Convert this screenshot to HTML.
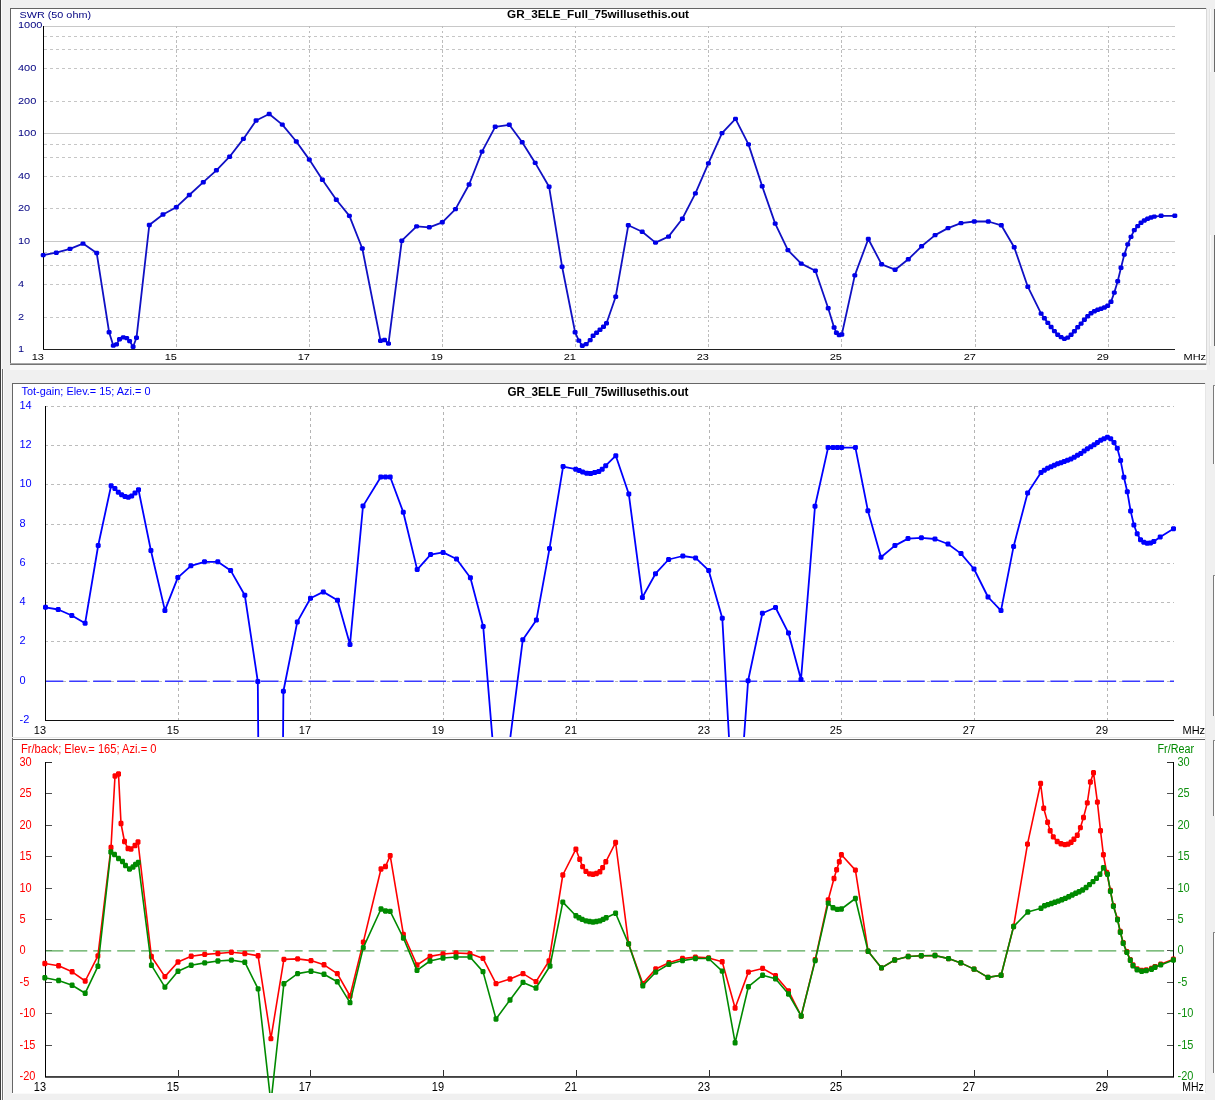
<!DOCTYPE html>
<html><head><meta charset="utf-8"><title>GR_3ELE_Full_75willusethis.out</title>
<style>html,body{margin:0;padding:0;background:#f0f0f0;width:1215px;height:1100px;overflow:hidden}svg{display:block}</style>
</head><body>
<svg width="1215" height="1100" viewBox="0 0 1215 1100"><rect x="0" y="0" width="1215" height="1100" fill="#f0f0f0"/>
<rect x="0" y="0" width="1" height="1100" fill="#3c3c3c"/>
<rect x="1" y="0" width="1" height="1100" fill="#fbfbfb"/>
<rect x="2" y="369" width="1" height="731" fill="#707070"/>
<rect x="3" y="369" width="1" height="731" fill="#fbfbfb"/>
<rect x="10" y="8" width="1197" height="357" fill="#ffffff"/>
<rect x="10" y="8" width="1197" height="1" fill="#646464"/>
<rect x="10" y="8" width="1" height="357" fill="#646464"/>
<rect x="10" y="363" width="1197" height="1" fill="#a8a8a8"/>
<rect x="10" y="364" width="1197" height="1" fill="#747474"/>
<rect x="1206" y="8" width="1" height="357" fill="#d8d8d8"/>
<rect x="10" y="365" width="1197" height="5" fill="#f8f8f8"/>
<rect x="1214" y="9" width="1" height="63" fill="#6a6a6a"/>
<rect x="1210" y="9" width="1" height="63" fill="#fcfcfc"/>
<rect x="1214" y="235" width="1" height="111" fill="#6a6a6a"/>
<rect x="1210" y="235" width="1" height="111" fill="#fcfcfc"/>
<rect x="1209" y="9" width="1" height="356" fill="#e4e4e4"/>
<rect x="12" y="383" width="1194" height="356" fill="#ffffff"/>
<rect x="12" y="383" width="1194" height="1" fill="#666666"/>
<rect x="12" y="383" width="1" height="356" fill="#666666"/>
<rect x="1205" y="383" width="1" height="356" fill="#e6e6e6"/>
<rect x="12" y="737" width="1194" height="1" fill="#e8e8e8"/>
<rect x="12" y="739" width="1194" height="355" fill="#ffffff"/>
<rect x="12" y="739" width="1194" height="1" fill="#666666"/>
<rect x="12" y="739" width="1" height="355" fill="#666666"/>
<rect x="1205" y="739" width="1" height="355" fill="#e6e6e6"/>
<rect x="12" y="1093" width="1194" height="1" fill="#fafafa"/>
<rect x="1213" y="385" width="1" height="79" fill="#7a7a7a"/>
<rect x="1214" y="385" width="1" height="79" fill="#fdfdfd"/>
<rect x="1213" y="385" width="2" height="1" fill="#8a8a8a"/>
<rect x="1213" y="575" width="1" height="141" fill="#7a7a7a"/>
<rect x="1214" y="575" width="1" height="141" fill="#fdfdfd"/>
<rect x="1213" y="575" width="2" height="1" fill="#8a8a8a"/>
<rect x="1213" y="740" width="1" height="76" fill="#7a7a7a"/>
<rect x="1214" y="740" width="1" height="76" fill="#fdfdfd"/>
<rect x="1213" y="740" width="2" height="1" fill="#8a8a8a"/>
<rect x="1213" y="932" width="1" height="141" fill="#7a7a7a"/>
<rect x="1214" y="932" width="1" height="141" fill="#fdfdfd"/>
<rect x="1213" y="932" width="2" height="1" fill="#8a8a8a"/>
<g font-family="'Liberation Sans', Arial, sans-serif">
<g shape-rendering="crispEdges">
<line x1="44" y1="26.5" x2="1175" y2="26.5" stroke="#c8c8c8" stroke-width="1"/>
<line x1="44" y1="133.5" x2="1175" y2="133.5" stroke="#c8c8c8" stroke-width="1"/>
<line x1="44" y1="241.5" x2="1175" y2="241.5" stroke="#c8c8c8" stroke-width="1"/>
<line x1="44" y1="36.5" x2="1175" y2="36.5" stroke="#c6c6c6" stroke-width="1" stroke-dasharray="3 3"/>
<line x1="44" y1="49.5" x2="1175" y2="49.5" stroke="#c6c6c6" stroke-width="1" stroke-dasharray="3 3"/>
<line x1="44" y1="68.5" x2="1175" y2="68.5" stroke="#c6c6c6" stroke-width="1" stroke-dasharray="3 3"/>
<line x1="44" y1="101.5" x2="1175" y2="101.5" stroke="#c6c6c6" stroke-width="1" stroke-dasharray="3 3"/>
<line x1="44" y1="144.5" x2="1175" y2="144.5" stroke="#c6c6c6" stroke-width="1" stroke-dasharray="3 3"/>
<line x1="44" y1="157.5" x2="1175" y2="157.5" stroke="#c6c6c6" stroke-width="1" stroke-dasharray="3 3"/>
<line x1="44" y1="176.5" x2="1175" y2="176.5" stroke="#c6c6c6" stroke-width="1" stroke-dasharray="3 3"/>
<line x1="44" y1="208.5" x2="1175" y2="208.5" stroke="#c6c6c6" stroke-width="1" stroke-dasharray="3 3"/>
<line x1="44" y1="252.5" x2="1175" y2="252.5" stroke="#c6c6c6" stroke-width="1" stroke-dasharray="3 3"/>
<line x1="44" y1="265.5" x2="1175" y2="265.5" stroke="#c6c6c6" stroke-width="1" stroke-dasharray="3 3"/>
<line x1="44" y1="284.5" x2="1175" y2="284.5" stroke="#c6c6c6" stroke-width="1" stroke-dasharray="3 3"/>
<line x1="44" y1="317.5" x2="1175" y2="317.5" stroke="#c6c6c6" stroke-width="1" stroke-dasharray="3 3"/>
<line x1="176.5" y1="26" x2="176.5" y2="349" stroke="#bcbcbc" stroke-width="1" stroke-dasharray="2.4 2.42"/>
<line x1="309.5" y1="26" x2="309.5" y2="349" stroke="#bcbcbc" stroke-width="1" stroke-dasharray="2.4 2.42"/>
<line x1="442.5" y1="26" x2="442.5" y2="349" stroke="#bcbcbc" stroke-width="1" stroke-dasharray="2.4 2.42"/>
<line x1="575.5" y1="26" x2="575.5" y2="349" stroke="#bcbcbc" stroke-width="1" stroke-dasharray="2.4 2.42"/>
<line x1="708.5" y1="26" x2="708.5" y2="349" stroke="#bcbcbc" stroke-width="1" stroke-dasharray="2.4 2.42"/>
<line x1="841.5" y1="26" x2="841.5" y2="349" stroke="#bcbcbc" stroke-width="1" stroke-dasharray="2.4 2.42"/>
<line x1="975.5" y1="26" x2="975.5" y2="349" stroke="#bcbcbc" stroke-width="1" stroke-dasharray="2.4 2.42"/>
<line x1="1108.5" y1="26" x2="1108.5" y2="349" stroke="#bcbcbc" stroke-width="1" stroke-dasharray="2.4 2.42"/>
<line x1="43.5" y1="26" x2="43.5" y2="350" stroke="#000000" stroke-width="1"/>
<line x1="43" y1="349.5" x2="1175" y2="349.5" stroke="#202020" stroke-width="1"/>
</g>
<text transform="translate(19.5 18.2) scale(1 0.88)" fill="#000080" font-size="11" text-anchor="start" font-weight="normal" textLength="71.5" lengthAdjust="spacingAndGlyphs">SWR (50 ohm)</text>
<text transform="translate(598 18) scale(1 0.88)" fill="#000" font-size="11.6" text-anchor="middle" font-weight="bold" textLength="182" lengthAdjust="spacingAndGlyphs">GR_3ELE_Full_75willusethis.out</text>
<text transform="translate(18 28) scale(1 0.88)" fill="#000080" font-size="11" text-anchor="start" font-weight="normal">1000</text>
<text transform="translate(18 71) scale(1 0.88)" fill="#000080" font-size="11" text-anchor="start" font-weight="normal">400</text>
<text transform="translate(18 104) scale(1 0.88)" fill="#000080" font-size="11" text-anchor="start" font-weight="normal">200</text>
<text transform="translate(18 136) scale(1 0.88)" fill="#000080" font-size="11" text-anchor="start" font-weight="normal">100</text>
<text transform="translate(18 179) scale(1 0.88)" fill="#000080" font-size="11" text-anchor="start" font-weight="normal">40</text>
<text transform="translate(18 211) scale(1 0.88)" fill="#000080" font-size="11" text-anchor="start" font-weight="normal">20</text>
<text transform="translate(18 244) scale(1 0.88)" fill="#000080" font-size="11" text-anchor="start" font-weight="normal">10</text>
<text transform="translate(18 287) scale(1 0.88)" fill="#000080" font-size="11" text-anchor="start" font-weight="normal">4</text>
<text transform="translate(18 320) scale(1 0.88)" fill="#000080" font-size="11" text-anchor="start" font-weight="normal">2</text>
<text transform="translate(18 351.5) scale(1 0.88)" fill="#000080" font-size="11" text-anchor="start" font-weight="normal">1</text>
<text transform="translate(44 360) scale(1 0.88)" fill="#000" font-size="11" text-anchor="end" font-weight="normal">13</text>
<text transform="translate(177 360) scale(1 0.88)" fill="#000" font-size="11" text-anchor="end" font-weight="normal">15</text>
<text transform="translate(310 360) scale(1 0.88)" fill="#000" font-size="11" text-anchor="end" font-weight="normal">17</text>
<text transform="translate(443 360) scale(1 0.88)" fill="#000" font-size="11" text-anchor="end" font-weight="normal">19</text>
<text transform="translate(576 360) scale(1 0.88)" fill="#000" font-size="11" text-anchor="end" font-weight="normal">21</text>
<text transform="translate(709 360) scale(1 0.88)" fill="#000" font-size="11" text-anchor="end" font-weight="normal">23</text>
<text transform="translate(842 360) scale(1 0.88)" fill="#000" font-size="11" text-anchor="end" font-weight="normal">25</text>
<text transform="translate(976 360) scale(1 0.88)" fill="#000" font-size="11" text-anchor="end" font-weight="normal">27</text>
<text transform="translate(1109 360) scale(1 0.88)" fill="#000" font-size="11" text-anchor="end" font-weight="normal">29</text>
<text transform="translate(1183.5 360) scale(1 0.88)" fill="#000" font-size="11" text-anchor="start" font-weight="normal">MHz</text>
<defs><clipPath id="c1"><rect x="11" y="9" width="1195" height="355"/></clipPath><clipPath id="c2"><rect x="13" y="384" width="1192" height="353"/></clipPath><clipPath id="c3"><rect x="13" y="740" width="1192" height="353"/></clipPath></defs>
<g clip-path="url(#c1)">
<polyline fill="none" stroke="#1010c4" stroke-width="1.8" stroke-linejoin="round" points="43.2,255.1 56.3,252.7 70,248.9 83,243.6 96.7,253 109.1,332.2 113.3,345.6 116.5,344.4 119.5,339.3 123.3,337.4 126.7,338.1 129.6,341.1 133.1,346.7 136.5,337.8 149.3,225 163,214.5 176.3,207.2 189.3,195 203.3,182.2 216.4,170.3 229.6,156.7 243.4,138.9 256.1,120.5 269.2,114 282.3,124.6 296.3,141.5 309.3,159.6 322.4,179.7 336.3,199.8 349.4,215.9 362.3,248.5 380.5,340.7 384.5,340 388.5,343.6 401.8,240.7 416.6,226.4 429.3,227.3 442.3,222.3 455.5,209.1 469.1,184.5 482,151.6 495.2,126.8 509.3,124.8 522.2,142.2 535.2,162.9 549.1,186.8 562.1,266.7 575.1,332.2 578.8,340.6 582.3,345.8 586.2,344.1 590.2,340.1 593.1,335.7 596.6,332.7 600,329.8 603.5,326.8 606.5,323.3 615.7,296.7 628.3,225.3 642.2,231.7 655.5,242.6 668.5,236.6 682.4,218.7 695.4,193.4 708.4,163.4 722,133.1 735.5,118.9 748.5,144.4 762.2,186.3 775.2,223.6 787.9,250.1 801.2,263.6 815.4,270.7 828.2,308.2 834.1,327.5 836.4,332.7 839.2,335 841.8,334.5 854.8,275.4 868.3,239 881.6,264.3 895.1,269.7 908.3,259.3 921.6,246.3 935.1,235.1 948,228.1 961,223.1 974.3,221.5 988.3,221.5 1001.3,225.3 1014.2,247.2 1027.8,286.7 1041.1,313.6 1044.4,318.3 1047.8,322.9 1051.1,327.0 1054.4,331.1 1057.7,334.7 1061.1,337.1 1064.4,338.9 1067.7,337.6 1071.1,334.8 1074.4,331.2 1077.7,327.2 1081.1,323.6 1084.4,319.7 1087.7,316.3 1091.0,313.3 1094.4,311.3 1097.7,309.8 1101.0,308.7 1104.4,307.5 1107.7,305.8 1111.0,301.7 1114.3,292.6 1117.7,281.3 1121.0,267.8 1124.3,254.6 1127.7,244.4 1131.0,236.9 1134.3,230.1 1137.7,226.1 1141.0,222.8 1144.3,220.5 1147.6,218.8 1151.0,217.5 1154.3,216.6 1161.1,215.8 1174.8,215.8"/>
<path fill="#0000e8" d="M41.7 252.9h3l1 1v2.4l-1 1h-3l-1-1v-2.4zM54.8 250.5h3l1 1v2.4l-1 1h-3l-1-1v-2.4zM68.5 246.7h3l1 1v2.4l-1 1h-3l-1-1v-2.4zM81.5 241.4h3l1 1v2.4l-1 1h-3l-1-1v-2.4zM95.2 250.8h3l1 1v2.4l-1 1h-3l-1-1v-2.4zM107.6 330.0h3l1 1v2.4l-1 1h-3l-1-1v-2.4zM111.8 343.4h3l1 1v2.4l-1 1h-3l-1-1v-2.4zM115.0 342.2h3l1 1v2.4l-1 1h-3l-1-1v-2.4zM118.0 337.1h3l1 1v2.4l-1 1h-3l-1-1v-2.4zM121.8 335.2h3l1 1v2.4l-1 1h-3l-1-1v-2.4zM125.2 335.9h3l1 1v2.4l-1 1h-3l-1-1v-2.4zM128.1 338.9h3l1 1v2.4l-1 1h-3l-1-1v-2.4zM131.6 344.5h3l1 1v2.4l-1 1h-3l-1-1v-2.4zM135.0 335.6h3l1 1v2.4l-1 1h-3l-1-1v-2.4zM147.8 222.8h3l1 1v2.4l-1 1h-3l-1-1v-2.4zM161.5 212.3h3l1 1v2.4l-1 1h-3l-1-1v-2.4zM174.8 205.0h3l1 1v2.4l-1 1h-3l-1-1v-2.4zM187.8 192.8h3l1 1v2.4l-1 1h-3l-1-1v-2.4zM201.8 180.0h3l1 1v2.4l-1 1h-3l-1-1v-2.4zM214.9 168.1h3l1 1v2.4l-1 1h-3l-1-1v-2.4zM228.1 154.5h3l1 1v2.4l-1 1h-3l-1-1v-2.4zM241.9 136.7h3l1 1v2.4l-1 1h-3l-1-1v-2.4zM254.6 118.3h3l1 1v2.4l-1 1h-3l-1-1v-2.4zM267.7 111.8h3l1 1v2.4l-1 1h-3l-1-1v-2.4zM280.8 122.4h3l1 1v2.4l-1 1h-3l-1-1v-2.4zM294.8 139.3h3l1 1v2.4l-1 1h-3l-1-1v-2.4zM307.8 157.4h3l1 1v2.4l-1 1h-3l-1-1v-2.4zM320.9 177.5h3l1 1v2.4l-1 1h-3l-1-1v-2.4zM334.8 197.6h3l1 1v2.4l-1 1h-3l-1-1v-2.4zM347.9 213.7h3l1 1v2.4l-1 1h-3l-1-1v-2.4zM360.8 246.3h3l1 1v2.4l-1 1h-3l-1-1v-2.4zM379.0 338.5h3l1 1v2.4l-1 1h-3l-1-1v-2.4zM383.0 337.8h3l1 1v2.4l-1 1h-3l-1-1v-2.4zM387.0 341.4h3l1 1v2.4l-1 1h-3l-1-1v-2.4zM400.3 238.5h3l1 1v2.4l-1 1h-3l-1-1v-2.4zM415.1 224.2h3l1 1v2.4l-1 1h-3l-1-1v-2.4zM427.8 225.1h3l1 1v2.4l-1 1h-3l-1-1v-2.4zM440.8 220.1h3l1 1v2.4l-1 1h-3l-1-1v-2.4zM454.0 206.9h3l1 1v2.4l-1 1h-3l-1-1v-2.4zM467.6 182.3h3l1 1v2.4l-1 1h-3l-1-1v-2.4zM480.5 149.4h3l1 1v2.4l-1 1h-3l-1-1v-2.4zM493.7 124.6h3l1 1v2.4l-1 1h-3l-1-1v-2.4zM507.8 122.6h3l1 1v2.4l-1 1h-3l-1-1v-2.4zM520.7 140.0h3l1 1v2.4l-1 1h-3l-1-1v-2.4zM533.7 160.7h3l1 1v2.4l-1 1h-3l-1-1v-2.4zM547.6 184.6h3l1 1v2.4l-1 1h-3l-1-1v-2.4zM560.6 264.5h3l1 1v2.4l-1 1h-3l-1-1v-2.4zM573.6 330.0h3l1 1v2.4l-1 1h-3l-1-1v-2.4zM577.3 338.4h3l1 1v2.4l-1 1h-3l-1-1v-2.4zM580.8 343.6h3l1 1v2.4l-1 1h-3l-1-1v-2.4zM584.7 341.9h3l1 1v2.4l-1 1h-3l-1-1v-2.4zM588.7 337.9h3l1 1v2.4l-1 1h-3l-1-1v-2.4zM591.6 333.5h3l1 1v2.4l-1 1h-3l-1-1v-2.4zM595.1 330.5h3l1 1v2.4l-1 1h-3l-1-1v-2.4zM598.5 327.6h3l1 1v2.4l-1 1h-3l-1-1v-2.4zM602.0 324.6h3l1 1v2.4l-1 1h-3l-1-1v-2.4zM605.0 321.1h3l1 1v2.4l-1 1h-3l-1-1v-2.4zM614.2 294.5h3l1 1v2.4l-1 1h-3l-1-1v-2.4zM626.8 223.1h3l1 1v2.4l-1 1h-3l-1-1v-2.4zM640.7 229.5h3l1 1v2.4l-1 1h-3l-1-1v-2.4zM654.0 240.4h3l1 1v2.4l-1 1h-3l-1-1v-2.4zM667.0 234.4h3l1 1v2.4l-1 1h-3l-1-1v-2.4zM680.9 216.5h3l1 1v2.4l-1 1h-3l-1-1v-2.4zM693.9 191.2h3l1 1v2.4l-1 1h-3l-1-1v-2.4zM706.9 161.2h3l1 1v2.4l-1 1h-3l-1-1v-2.4zM720.5 130.9h3l1 1v2.4l-1 1h-3l-1-1v-2.4zM734.0 116.7h3l1 1v2.4l-1 1h-3l-1-1v-2.4zM747.0 142.2h3l1 1v2.4l-1 1h-3l-1-1v-2.4zM760.7 184.1h3l1 1v2.4l-1 1h-3l-1-1v-2.4zM773.7 221.4h3l1 1v2.4l-1 1h-3l-1-1v-2.4zM786.4 247.9h3l1 1v2.4l-1 1h-3l-1-1v-2.4zM799.7 261.4h3l1 1v2.4l-1 1h-3l-1-1v-2.4zM813.9 268.5h3l1 1v2.4l-1 1h-3l-1-1v-2.4zM826.7 306.0h3l1 1v2.4l-1 1h-3l-1-1v-2.4zM832.6 325.3h3l1 1v2.4l-1 1h-3l-1-1v-2.4zM834.9 330.5h3l1 1v2.4l-1 1h-3l-1-1v-2.4zM837.7 332.8h3l1 1v2.4l-1 1h-3l-1-1v-2.4zM840.3 332.3h3l1 1v2.4l-1 1h-3l-1-1v-2.4zM853.3 273.2h3l1 1v2.4l-1 1h-3l-1-1v-2.4zM866.8 236.8h3l1 1v2.4l-1 1h-3l-1-1v-2.4zM880.1 262.1h3l1 1v2.4l-1 1h-3l-1-1v-2.4zM893.6 267.5h3l1 1v2.4l-1 1h-3l-1-1v-2.4zM906.8 257.1h3l1 1v2.4l-1 1h-3l-1-1v-2.4zM920.1 244.1h3l1 1v2.4l-1 1h-3l-1-1v-2.4zM933.6 232.9h3l1 1v2.4l-1 1h-3l-1-1v-2.4zM946.5 225.9h3l1 1v2.4l-1 1h-3l-1-1v-2.4zM959.5 220.9h3l1 1v2.4l-1 1h-3l-1-1v-2.4zM972.8 219.3h3l1 1v2.4l-1 1h-3l-1-1v-2.4zM986.8 219.3h3l1 1v2.4l-1 1h-3l-1-1v-2.4zM999.8 223.1h3l1 1v2.4l-1 1h-3l-1-1v-2.4zM1012.7 245.0h3l1 1v2.4l-1 1h-3l-1-1v-2.4zM1026.3 284.5h3l1 1v2.4l-1 1h-3l-1-1v-2.4zM1039.6 311.4h3l1 1v2.4l-1 1h-3l-1-1v-2.4zM1042.9 316.1h3l1 1v2.4l-1 1h-3l-1-1v-2.4zM1046.3 320.7h3l1 1v2.4l-1 1h-3l-1-1v-2.4zM1049.6 324.8h3l1 1v2.4l-1 1h-3l-1-1v-2.4zM1052.9 328.9h3l1 1v2.4l-1 1h-3l-1-1v-2.4zM1056.2 332.5h3l1 1v2.4l-1 1h-3l-1-1v-2.4zM1059.6 334.9h3l1 1v2.4l-1 1h-3l-1-1v-2.4zM1062.9 336.7h3l1 1v2.4l-1 1h-3l-1-1v-2.4zM1066.2 335.4h3l1 1v2.4l-1 1h-3l-1-1v-2.4zM1069.6 332.6h3l1 1v2.4l-1 1h-3l-1-1v-2.4zM1072.9 329.0h3l1 1v2.4l-1 1h-3l-1-1v-2.4zM1076.2 325.0h3l1 1v2.4l-1 1h-3l-1-1v-2.4zM1079.6 321.4h3l1 1v2.4l-1 1h-3l-1-1v-2.4zM1082.9 317.5h3l1 1v2.4l-1 1h-3l-1-1v-2.4zM1086.2 314.1h3l1 1v2.4l-1 1h-3l-1-1v-2.4zM1089.5 311.1h3l1 1v2.4l-1 1h-3l-1-1v-2.4zM1092.9 309.1h3l1 1v2.4l-1 1h-3l-1-1v-2.4zM1096.2 307.6h3l1 1v2.4l-1 1h-3l-1-1v-2.4zM1099.5 306.5h3l1 1v2.4l-1 1h-3l-1-1v-2.4zM1102.9 305.3h3l1 1v2.4l-1 1h-3l-1-1v-2.4zM1106.2 303.6h3l1 1v2.4l-1 1h-3l-1-1v-2.4zM1109.5 299.5h3l1 1v2.4l-1 1h-3l-1-1v-2.4zM1112.8 290.4h3l1 1v2.4l-1 1h-3l-1-1v-2.4zM1116.2 279.1h3l1 1v2.4l-1 1h-3l-1-1v-2.4zM1119.5 265.6h3l1 1v2.4l-1 1h-3l-1-1v-2.4zM1122.8 252.4h3l1 1v2.4l-1 1h-3l-1-1v-2.4zM1126.2 242.2h3l1 1v2.4l-1 1h-3l-1-1v-2.4zM1129.5 234.7h3l1 1v2.4l-1 1h-3l-1-1v-2.4zM1132.8 227.9h3l1 1v2.4l-1 1h-3l-1-1v-2.4zM1136.2 223.9h3l1 1v2.4l-1 1h-3l-1-1v-2.4zM1139.5 220.6h3l1 1v2.4l-1 1h-3l-1-1v-2.4zM1142.8 218.3h3l1 1v2.4l-1 1h-3l-1-1v-2.4zM1146.1 216.6h3l1 1v2.4l-1 1h-3l-1-1v-2.4zM1149.5 215.3h3l1 1v2.4l-1 1h-3l-1-1v-2.4zM1152.8 214.4h3l1 1v2.4l-1 1h-3l-1-1v-2.4zM1159.6 213.6h3l1 1v2.4l-1 1h-3l-1-1v-2.4zM1173.3 213.6h3l1 1v2.4l-1 1h-3l-1-1v-2.4z"/>
</g>
<g shape-rendering="crispEdges">
<line x1="45" y1="406.5" x2="1174" y2="406.5" stroke="#bcbcbc" stroke-width="1" stroke-dasharray="3 3"/>
<line x1="45" y1="445.5" x2="1174" y2="445.5" stroke="#bcbcbc" stroke-width="1" stroke-dasharray="3 3"/>
<line x1="45" y1="484.5" x2="1174" y2="484.5" stroke="#bcbcbc" stroke-width="1" stroke-dasharray="3 3"/>
<line x1="45" y1="524.5" x2="1174" y2="524.5" stroke="#bcbcbc" stroke-width="1" stroke-dasharray="3 3"/>
<line x1="45" y1="563.5" x2="1174" y2="563.5" stroke="#bcbcbc" stroke-width="1" stroke-dasharray="3 3"/>
<line x1="45" y1="602.5" x2="1174" y2="602.5" stroke="#bcbcbc" stroke-width="1" stroke-dasharray="3 3"/>
<line x1="45" y1="641.5" x2="1174" y2="641.5" stroke="#bcbcbc" stroke-width="1" stroke-dasharray="3 3"/>
<line x1="45" y1="681.5" x2="1174" y2="681.5" stroke="#bcbcbc" stroke-width="1" stroke-dasharray="3 3"/>
<line x1="178.5" y1="406" x2="178.5" y2="720" stroke="#b4b4b4" stroke-width="1" stroke-dasharray="3 3"/>
<line x1="310.5" y1="406" x2="310.5" y2="720" stroke="#b4b4b4" stroke-width="1" stroke-dasharray="3 3"/>
<line x1="443.5" y1="406" x2="443.5" y2="720" stroke="#b4b4b4" stroke-width="1" stroke-dasharray="3 3"/>
<line x1="576.5" y1="406" x2="576.5" y2="720" stroke="#b4b4b4" stroke-width="1" stroke-dasharray="3 3"/>
<line x1="709.5" y1="406" x2="709.5" y2="720" stroke="#b4b4b4" stroke-width="1" stroke-dasharray="3 3"/>
<line x1="841.5" y1="406" x2="841.5" y2="720" stroke="#b4b4b4" stroke-width="1" stroke-dasharray="3 3"/>
<line x1="974.5" y1="406" x2="974.5" y2="720" stroke="#b4b4b4" stroke-width="1" stroke-dasharray="3 3"/>
<line x1="1107.5" y1="406" x2="1107.5" y2="720" stroke="#b4b4b4" stroke-width="1" stroke-dasharray="3 3"/>
<line x1="45.5" y1="406" x2="45.5" y2="721" stroke="#000000" stroke-width="1"/>
<line x1="45" y1="720.5" x2="1174" y2="720.5" stroke="#101010" stroke-width="1"/>
</g>
<line x1="45.3" y1="681.3" x2="1174" y2="681.3" stroke="#3a3aff" stroke-width="1.4" stroke-dasharray="17.95 5.98"/>
<line x1="45.5" y1="406" x2="45.5" y2="721" stroke="#000000" stroke-width="1"/>
<text transform="translate(21.5 395.2) scale(1 1.03)" fill="#0000ff" font-size="11" text-anchor="start" font-weight="normal" textLength="129" lengthAdjust="spacingAndGlyphs">Tot-gain; Elev.= 15; Azi.= 0</text>
<text transform="translate(598 395.6) scale(1 1.03)" fill="#000" font-size="11.6" text-anchor="middle" font-weight="bold" textLength="181" lengthAdjust="spacingAndGlyphs">GR_3ELE_Full_75willusethis.out</text>
<text transform="translate(19.5 408.8) scale(1 1.03)" fill="#0000ff" font-size="11" text-anchor="start" font-weight="normal">14</text>
<text transform="translate(19.5 447.8) scale(1 1.03)" fill="#0000ff" font-size="11" text-anchor="start" font-weight="normal">12</text>
<text transform="translate(19.5 486.8) scale(1 1.03)" fill="#0000ff" font-size="11" text-anchor="start" font-weight="normal">10</text>
<text transform="translate(19.5 526.8) scale(1 1.03)" fill="#0000ff" font-size="11" text-anchor="start" font-weight="normal">8</text>
<text transform="translate(19.5 565.8) scale(1 1.03)" fill="#0000ff" font-size="11" text-anchor="start" font-weight="normal">6</text>
<text transform="translate(19.5 604.8) scale(1 1.03)" fill="#0000ff" font-size="11" text-anchor="start" font-weight="normal">4</text>
<text transform="translate(19.5 643.8) scale(1 1.03)" fill="#0000ff" font-size="11" text-anchor="start" font-weight="normal">2</text>
<text transform="translate(19.5 683.8) scale(1 1.03)" fill="#0000ff" font-size="11" text-anchor="start" font-weight="normal">0</text>
<text transform="translate(19.5 722.8) scale(1 1.03)" fill="#0000ff" font-size="11" text-anchor="start" font-weight="normal">-2</text>
<text transform="translate(46 733.8) scale(1 1.03)" fill="#000" font-size="11" text-anchor="end" font-weight="normal">13</text>
<text transform="translate(179 733.8) scale(1 1.03)" fill="#000" font-size="11" text-anchor="end" font-weight="normal">15</text>
<text transform="translate(311 733.8) scale(1 1.03)" fill="#000" font-size="11" text-anchor="end" font-weight="normal">17</text>
<text transform="translate(444 733.8) scale(1 1.03)" fill="#000" font-size="11" text-anchor="end" font-weight="normal">19</text>
<text transform="translate(577 733.8) scale(1 1.03)" fill="#000" font-size="11" text-anchor="end" font-weight="normal">21</text>
<text transform="translate(710 733.8) scale(1 1.03)" fill="#000" font-size="11" text-anchor="end" font-weight="normal">23</text>
<text transform="translate(842 733.8) scale(1 1.03)" fill="#000" font-size="11" text-anchor="end" font-weight="normal">25</text>
<text transform="translate(975 733.8) scale(1 1.03)" fill="#000" font-size="11" text-anchor="end" font-weight="normal">27</text>
<text transform="translate(1108 733.8) scale(1 1.03)" fill="#000" font-size="11" text-anchor="end" font-weight="normal">29</text>
<text transform="translate(1182.5 734) scale(1 1.03)" fill="#000" font-size="11" text-anchor="start" font-weight="normal">MHz</text>
<g clip-path="url(#c2)">
<polyline fill="none" stroke="#0000ff" stroke-width="1.8" stroke-linejoin="round" points="45.5,607.3 58.2,609.5 71.8,615.5 85.1,623.3 98.2,545.5 111.1,485.7 114.9,488.6 118.3,492.3 121.6,494.8 125,496.5 128.3,497.2 131.7,496 135,493 138.5,489.8 150.9,550.5 164.9,610.4 177.8,577.6 190.9,565.8 204.5,561.8 217.8,561.8 230.6,570.4 244.8,595.2 257.8,681.5 271,2400 283.4,691.3 297.3,621.9 310.5,598.3 323.3,591.9 337.5,600.2 350,644.4 363,506.1 380.8,477 385.5,477 390.2,477 403.3,512.3 417.2,569.6 430.6,554.6 443.1,552.4 456.5,559 470.4,577.8 483.2,626.4 496.7,790 510,740 522.8,639.7 536.4,620.1 549.5,548.6 563.1,466.6 575.7,469.2 579.2,470.6 582.6,472.1 586.7,473.2 590.7,473.5 594.7,472.6 598.8,471.5 602.2,469.2 605.7,465.7 615.8,455.7 628.8,494 642.4,597.4 655.5,573.7 668.6,559.5 682.8,556 695.6,557.9 708.7,570.4 722.3,618.2 735.6,855 748.1,680.8 762.4,613.3 775.5,607.5 788.5,633.1 801,679.6 815,506.3 828.1,447.6 833,447.6 837.4,447.6 841.7,447.6 855.4,447.6 867.9,510.7 881,557.2 894.9,545.6 908,538.6 921.4,537.8 935,539 948,544 961,553.6 974,569 988,597 1001,610.6 1013.6,546.4 1027.6,493 1041.0,472.4 1044.3,470.3 1047.6,468.2 1051.0,466.7 1054.3,465.2 1057.6,463.8 1060.9,462.7 1064.2,461.5 1067.5,460.2 1070.9,458.9 1074.2,457.2 1077.5,455.3 1080.8,453.4 1084.1,451.1 1087.4,448.7 1090.8,446.7 1094.1,444.7 1097.4,442.5 1100.7,440.3 1104.0,438.7 1107.4,437.2 1110.7,438.8 1114.0,442.5 1117.3,448.3 1120.6,460.6 1123.9,477.3 1127.3,491.7 1130.6,510.9 1133.9,525.0 1137.2,533.7 1140.5,539.8 1143.8,542.2 1147.2,543.3 1150.5,542.9 1153.8,541.5 1160.2,537 1173.5,528.8"/>
<path fill="#0000ff" d="M44.0 604.8h3l1 1v3l-1 1h-3l-1-1v-3zM56.7 607.0h3l1 1v3l-1 1h-3l-1-1v-3zM70.3 613.0h3l1 1v3l-1 1h-3l-1-1v-3zM83.6 620.8h3l1 1v3l-1 1h-3l-1-1v-3zM96.7 543.0h3l1 1v3l-1 1h-3l-1-1v-3zM109.6 483.2h3l1 1v3l-1 1h-3l-1-1v-3zM113.4 486.1h3l1 1v3l-1 1h-3l-1-1v-3zM116.8 489.8h3l1 1v3l-1 1h-3l-1-1v-3zM120.1 492.3h3l1 1v3l-1 1h-3l-1-1v-3zM123.5 494.0h3l1 1v3l-1 1h-3l-1-1v-3zM126.8 494.7h3l1 1v3l-1 1h-3l-1-1v-3zM130.2 493.5h3l1 1v3l-1 1h-3l-1-1v-3zM133.5 490.5h3l1 1v3l-1 1h-3l-1-1v-3zM137.0 487.3h3l1 1v3l-1 1h-3l-1-1v-3zM149.4 548.0h3l1 1v3l-1 1h-3l-1-1v-3zM163.4 607.9h3l1 1v3l-1 1h-3l-1-1v-3zM176.3 575.1h3l1 1v3l-1 1h-3l-1-1v-3zM189.4 563.3h3l1 1v3l-1 1h-3l-1-1v-3zM203.0 559.3h3l1 1v3l-1 1h-3l-1-1v-3zM216.3 559.3h3l1 1v3l-1 1h-3l-1-1v-3zM229.1 567.9h3l1 1v3l-1 1h-3l-1-1v-3zM243.3 592.7h3l1 1v3l-1 1h-3l-1-1v-3zM256.3 679.0h3l1 1v3l-1 1h-3l-1-1v-3zM281.9 688.8h3l1 1v3l-1 1h-3l-1-1v-3zM295.8 619.4h3l1 1v3l-1 1h-3l-1-1v-3zM309.0 595.8h3l1 1v3l-1 1h-3l-1-1v-3zM321.8 589.4h3l1 1v3l-1 1h-3l-1-1v-3zM336.0 597.7h3l1 1v3l-1 1h-3l-1-1v-3zM348.5 641.9h3l1 1v3l-1 1h-3l-1-1v-3zM361.5 503.6h3l1 1v3l-1 1h-3l-1-1v-3zM379.3 474.5h3l1 1v3l-1 1h-3l-1-1v-3zM384.0 474.5h3l1 1v3l-1 1h-3l-1-1v-3zM388.7 474.5h3l1 1v3l-1 1h-3l-1-1v-3zM401.8 509.8h3l1 1v3l-1 1h-3l-1-1v-3zM415.7 567.1h3l1 1v3l-1 1h-3l-1-1v-3zM429.1 552.1h3l1 1v3l-1 1h-3l-1-1v-3zM441.6 549.9h3l1 1v3l-1 1h-3l-1-1v-3zM455.0 556.5h3l1 1v3l-1 1h-3l-1-1v-3zM468.9 575.3h3l1 1v3l-1 1h-3l-1-1v-3zM481.7 623.9h3l1 1v3l-1 1h-3l-1-1v-3zM521.3 637.2h3l1 1v3l-1 1h-3l-1-1v-3zM534.9 617.6h3l1 1v3l-1 1h-3l-1-1v-3zM548.0 546.1h3l1 1v3l-1 1h-3l-1-1v-3zM561.6 464.1h3l1 1v3l-1 1h-3l-1-1v-3zM574.2 466.7h3l1 1v3l-1 1h-3l-1-1v-3zM577.7 468.1h3l1 1v3l-1 1h-3l-1-1v-3zM581.1 469.6h3l1 1v3l-1 1h-3l-1-1v-3zM585.2 470.7h3l1 1v3l-1 1h-3l-1-1v-3zM589.2 471.0h3l1 1v3l-1 1h-3l-1-1v-3zM593.2 470.1h3l1 1v3l-1 1h-3l-1-1v-3zM597.3 469.0h3l1 1v3l-1 1h-3l-1-1v-3zM600.7 466.7h3l1 1v3l-1 1h-3l-1-1v-3zM604.2 463.2h3l1 1v3l-1 1h-3l-1-1v-3zM614.3 453.2h3l1 1v3l-1 1h-3l-1-1v-3zM627.3 491.5h3l1 1v3l-1 1h-3l-1-1v-3zM640.9 594.9h3l1 1v3l-1 1h-3l-1-1v-3zM654.0 571.2h3l1 1v3l-1 1h-3l-1-1v-3zM667.1 557.0h3l1 1v3l-1 1h-3l-1-1v-3zM681.3 553.5h3l1 1v3l-1 1h-3l-1-1v-3zM694.1 555.4h3l1 1v3l-1 1h-3l-1-1v-3zM707.2 567.9h3l1 1v3l-1 1h-3l-1-1v-3zM720.8 615.7h3l1 1v3l-1 1h-3l-1-1v-3zM746.6 678.3h3l1 1v3l-1 1h-3l-1-1v-3zM760.9 610.8h3l1 1v3l-1 1h-3l-1-1v-3zM774.0 605.0h3l1 1v3l-1 1h-3l-1-1v-3zM787.0 630.6h3l1 1v3l-1 1h-3l-1-1v-3zM799.5 677.1h3l1 1v3l-1 1h-3l-1-1v-3zM813.5 503.8h3l1 1v3l-1 1h-3l-1-1v-3zM826.6 445.1h3l1 1v3l-1 1h-3l-1-1v-3zM831.5 445.1h3l1 1v3l-1 1h-3l-1-1v-3zM835.9 445.1h3l1 1v3l-1 1h-3l-1-1v-3zM840.2 445.1h3l1 1v3l-1 1h-3l-1-1v-3zM853.9 445.1h3l1 1v3l-1 1h-3l-1-1v-3zM866.4 508.2h3l1 1v3l-1 1h-3l-1-1v-3zM879.5 554.7h3l1 1v3l-1 1h-3l-1-1v-3zM893.4 543.1h3l1 1v3l-1 1h-3l-1-1v-3zM906.5 536.1h3l1 1v3l-1 1h-3l-1-1v-3zM919.9 535.3h3l1 1v3l-1 1h-3l-1-1v-3zM933.5 536.5h3l1 1v3l-1 1h-3l-1-1v-3zM946.5 541.5h3l1 1v3l-1 1h-3l-1-1v-3zM959.5 551.1h3l1 1v3l-1 1h-3l-1-1v-3zM972.5 566.5h3l1 1v3l-1 1h-3l-1-1v-3zM986.5 594.5h3l1 1v3l-1 1h-3l-1-1v-3zM999.5 608.1h3l1 1v3l-1 1h-3l-1-1v-3zM1012.1 543.9h3l1 1v3l-1 1h-3l-1-1v-3zM1026.1 490.5h3l1 1v3l-1 1h-3l-1-1v-3zM1039.5 469.9h3l1 1v3l-1 1h-3l-1-1v-3zM1042.8 467.8h3l1 1v3l-1 1h-3l-1-1v-3zM1046.1 465.7h3l1 1v3l-1 1h-3l-1-1v-3zM1049.5 464.2h3l1 1v3l-1 1h-3l-1-1v-3zM1052.8 462.7h3l1 1v3l-1 1h-3l-1-1v-3zM1056.1 461.3h3l1 1v3l-1 1h-3l-1-1v-3zM1059.4 460.2h3l1 1v3l-1 1h-3l-1-1v-3zM1062.7 459.0h3l1 1v3l-1 1h-3l-1-1v-3zM1066.0 457.7h3l1 1v3l-1 1h-3l-1-1v-3zM1069.4 456.4h3l1 1v3l-1 1h-3l-1-1v-3zM1072.7 454.7h3l1 1v3l-1 1h-3l-1-1v-3zM1076.0 452.8h3l1 1v3l-1 1h-3l-1-1v-3zM1079.3 450.9h3l1 1v3l-1 1h-3l-1-1v-3zM1082.6 448.6h3l1 1v3l-1 1h-3l-1-1v-3zM1085.9 446.2h3l1 1v3l-1 1h-3l-1-1v-3zM1089.3 444.2h3l1 1v3l-1 1h-3l-1-1v-3zM1092.6 442.2h3l1 1v3l-1 1h-3l-1-1v-3zM1095.9 440.0h3l1 1v3l-1 1h-3l-1-1v-3zM1099.2 437.8h3l1 1v3l-1 1h-3l-1-1v-3zM1102.5 436.2h3l1 1v3l-1 1h-3l-1-1v-3zM1105.9 434.7h3l1 1v3l-1 1h-3l-1-1v-3zM1109.2 436.3h3l1 1v3l-1 1h-3l-1-1v-3zM1112.5 440.0h3l1 1v3l-1 1h-3l-1-1v-3zM1115.8 445.8h3l1 1v3l-1 1h-3l-1-1v-3zM1119.1 458.1h3l1 1v3l-1 1h-3l-1-1v-3zM1122.4 474.8h3l1 1v3l-1 1h-3l-1-1v-3zM1125.8 489.2h3l1 1v3l-1 1h-3l-1-1v-3zM1129.1 508.4h3l1 1v3l-1 1h-3l-1-1v-3zM1132.4 522.5h3l1 1v3l-1 1h-3l-1-1v-3zM1135.7 531.2h3l1 1v3l-1 1h-3l-1-1v-3zM1139.0 537.3h3l1 1v3l-1 1h-3l-1-1v-3zM1142.3 539.7h3l1 1v3l-1 1h-3l-1-1v-3zM1145.7 540.8h3l1 1v3l-1 1h-3l-1-1v-3zM1149.0 540.4h3l1 1v3l-1 1h-3l-1-1v-3zM1152.3 539.0h3l1 1v3l-1 1h-3l-1-1v-3zM1158.7 534.5h3l1 1v3l-1 1h-3l-1-1v-3zM1172.0 526.3h3l1 1v3l-1 1h-3l-1-1v-3z"/>
</g>
<g shape-rendering="crispEdges">
<line x1="45.5" y1="762" x2="45.5" y2="1077" stroke="#000000" stroke-width="1"/>
<line x1="1173.5" y1="762" x2="1173.5" y2="1077" stroke="#000000" stroke-width="1"/>
<line x1="46" y1="762.5" x2="52" y2="762.5" stroke="#505050" stroke-width="1"/>
<line x1="1167" y1="762.5" x2="1173" y2="762.5" stroke="#505050" stroke-width="1"/>
<line x1="46" y1="793.5" x2="52" y2="793.5" stroke="#505050" stroke-width="1"/>
<line x1="1167" y1="793.5" x2="1173" y2="793.5" stroke="#505050" stroke-width="1"/>
<line x1="46" y1="825.5" x2="52" y2="825.5" stroke="#505050" stroke-width="1"/>
<line x1="1167" y1="825.5" x2="1173" y2="825.5" stroke="#505050" stroke-width="1"/>
<line x1="46" y1="856.5" x2="52" y2="856.5" stroke="#505050" stroke-width="1"/>
<line x1="1167" y1="856.5" x2="1173" y2="856.5" stroke="#505050" stroke-width="1"/>
<line x1="46" y1="888.5" x2="52" y2="888.5" stroke="#505050" stroke-width="1"/>
<line x1="1167" y1="888.5" x2="1173" y2="888.5" stroke="#505050" stroke-width="1"/>
<line x1="46" y1="919.5" x2="52" y2="919.5" stroke="#505050" stroke-width="1"/>
<line x1="1167" y1="919.5" x2="1173" y2="919.5" stroke="#505050" stroke-width="1"/>
<line x1="46" y1="950.5" x2="52" y2="950.5" stroke="#505050" stroke-width="1"/>
<line x1="1167" y1="950.5" x2="1173" y2="950.5" stroke="#505050" stroke-width="1"/>
<line x1="46" y1="982.5" x2="52" y2="982.5" stroke="#505050" stroke-width="1"/>
<line x1="1167" y1="982.5" x2="1173" y2="982.5" stroke="#505050" stroke-width="1"/>
<line x1="46" y1="1013.5" x2="52" y2="1013.5" stroke="#505050" stroke-width="1"/>
<line x1="1167" y1="1013.5" x2="1173" y2="1013.5" stroke="#505050" stroke-width="1"/>
<line x1="46" y1="1045.5" x2="52" y2="1045.5" stroke="#505050" stroke-width="1"/>
<line x1="1167" y1="1045.5" x2="1173" y2="1045.5" stroke="#505050" stroke-width="1"/>
<line x1="46" y1="762.5" x2="52" y2="762.5" stroke="#303030" stroke-width="1"/>
<line x1="1167" y1="762.5" x2="1173" y2="762.5" stroke="#303030" stroke-width="1"/>
<line x1="45" y1="1076.5" x2="1174" y2="1076.5" stroke="#404040" stroke-width="1"/>
<line x1="45" y1="1077.5" x2="1174" y2="1077.5" stroke="#585858" stroke-width="1"/>
<line x1="178.5" y1="1070" x2="178.5" y2="1076" stroke="#303030" stroke-width="1"/>
<line x1="310.5" y1="1070" x2="310.5" y2="1076" stroke="#303030" stroke-width="1"/>
<line x1="443.5" y1="1070" x2="443.5" y2="1076" stroke="#303030" stroke-width="1"/>
<line x1="576.5" y1="1070" x2="576.5" y2="1076" stroke="#303030" stroke-width="1"/>
<line x1="709.5" y1="1070" x2="709.5" y2="1076" stroke="#303030" stroke-width="1"/>
<line x1="841.5" y1="1070" x2="841.5" y2="1076" stroke="#303030" stroke-width="1"/>
<line x1="974.5" y1="1070" x2="974.5" y2="1076" stroke="#303030" stroke-width="1"/>
<line x1="1107.5" y1="1070" x2="1107.5" y2="1076" stroke="#303030" stroke-width="1"/>
</g>
<line x1="45.4" y1="950.9" x2="1173" y2="950.9" stroke="#55a855" stroke-width="1.4" stroke-dasharray="17.95 5.98"/>
<line x1="45.5" y1="762" x2="45.5" y2="1077" stroke="#000000" stroke-width="1"/>
<line x1="1173.5" y1="762" x2="1173.5" y2="1077" stroke="#000000" stroke-width="1"/>
<text transform="translate(21 752.5) scale(1 1.13)" fill="#ff0000" font-size="11" text-anchor="start" font-weight="normal" textLength="135.5" lengthAdjust="spacingAndGlyphs">Fr/back; Elev.= 165; Azi.= 0</text>
<text transform="translate(1157.5 752.8) scale(1 1.13)" fill="#008a00" font-size="11" text-anchor="start" font-weight="normal" textLength="36.5" lengthAdjust="spacingAndGlyphs">Fr/Rear</text>
<text transform="translate(19.5 765.5) scale(1 1.13)" fill="#ff0000" font-size="11" text-anchor="start" font-weight="normal">30</text>
<text transform="translate(1177.5 765.5) scale(1 1.13)" fill="#109010" font-size="11" text-anchor="start" font-weight="normal">30</text>
<text transform="translate(19.5 796.5) scale(1 1.13)" fill="#ff0000" font-size="11" text-anchor="start" font-weight="normal">25</text>
<text transform="translate(1177.5 796.5) scale(1 1.13)" fill="#109010" font-size="11" text-anchor="start" font-weight="normal">25</text>
<text transform="translate(19.5 828.5) scale(1 1.13)" fill="#ff0000" font-size="11" text-anchor="start" font-weight="normal">20</text>
<text transform="translate(1177.5 828.5) scale(1 1.13)" fill="#109010" font-size="11" text-anchor="start" font-weight="normal">20</text>
<text transform="translate(19.5 859.5) scale(1 1.13)" fill="#ff0000" font-size="11" text-anchor="start" font-weight="normal">15</text>
<text transform="translate(1177.5 859.5) scale(1 1.13)" fill="#109010" font-size="11" text-anchor="start" font-weight="normal">15</text>
<text transform="translate(19.5 891.5) scale(1 1.13)" fill="#ff0000" font-size="11" text-anchor="start" font-weight="normal">10</text>
<text transform="translate(1177.5 891.5) scale(1 1.13)" fill="#109010" font-size="11" text-anchor="start" font-weight="normal">10</text>
<text transform="translate(19.5 922.5) scale(1 1.13)" fill="#ff0000" font-size="11" text-anchor="start" font-weight="normal">5</text>
<text transform="translate(1177.5 922.5) scale(1 1.13)" fill="#109010" font-size="11" text-anchor="start" font-weight="normal">5</text>
<text transform="translate(19.5 953.5) scale(1 1.13)" fill="#ff0000" font-size="11" text-anchor="start" font-weight="normal">0</text>
<text transform="translate(1177.5 953.5) scale(1 1.13)" fill="#109010" font-size="11" text-anchor="start" font-weight="normal">0</text>
<text transform="translate(19.5 985.5) scale(1 1.13)" fill="#ff0000" font-size="11" text-anchor="start" font-weight="normal">-5</text>
<text transform="translate(1177.5 985.5) scale(1 1.13)" fill="#109010" font-size="11" text-anchor="start" font-weight="normal">-5</text>
<text transform="translate(19.5 1016.5) scale(1 1.13)" fill="#ff0000" font-size="11" text-anchor="start" font-weight="normal">-10</text>
<text transform="translate(1177.5 1016.5) scale(1 1.13)" fill="#109010" font-size="11" text-anchor="start" font-weight="normal">-10</text>
<text transform="translate(19.5 1048.5) scale(1 1.13)" fill="#ff0000" font-size="11" text-anchor="start" font-weight="normal">-15</text>
<text transform="translate(1177.5 1048.5) scale(1 1.13)" fill="#109010" font-size="11" text-anchor="start" font-weight="normal">-15</text>
<text transform="translate(19.5 1079.5) scale(1 1.13)" fill="#ff0000" font-size="11" text-anchor="start" font-weight="normal">-20</text>
<text transform="translate(1177.5 1079.5) scale(1 1.13)" fill="#109010" font-size="11" text-anchor="start" font-weight="normal">-20</text>
<text transform="translate(46 1090.7) scale(1 1.13)" fill="#000" font-size="11" text-anchor="end" font-weight="normal">13</text>
<text transform="translate(179 1090.7) scale(1 1.13)" fill="#000" font-size="11" text-anchor="end" font-weight="normal">15</text>
<text transform="translate(311 1090.7) scale(1 1.13)" fill="#000" font-size="11" text-anchor="end" font-weight="normal">17</text>
<text transform="translate(444 1090.7) scale(1 1.13)" fill="#000" font-size="11" text-anchor="end" font-weight="normal">19</text>
<text transform="translate(577 1090.7) scale(1 1.13)" fill="#000" font-size="11" text-anchor="end" font-weight="normal">21</text>
<text transform="translate(710 1090.7) scale(1 1.13)" fill="#000" font-size="11" text-anchor="end" font-weight="normal">23</text>
<text transform="translate(842 1090.7) scale(1 1.13)" fill="#000" font-size="11" text-anchor="end" font-weight="normal">25</text>
<text transform="translate(975 1090.7) scale(1 1.13)" fill="#000" font-size="11" text-anchor="end" font-weight="normal">27</text>
<text transform="translate(1108 1090.7) scale(1 1.13)" fill="#000" font-size="11" text-anchor="end" font-weight="normal">29</text>
<text transform="translate(1182.3 1090.7) scale(1 1.13)" fill="#000" font-size="11" text-anchor="start" font-weight="normal" textLength="21.5" lengthAdjust="spacingAndGlyphs">MHz</text>
<g clip-path="url(#c3)">
<polyline fill="none" stroke="#ff0000" stroke-width="1.6" stroke-linejoin="round" points="44.8,963.5 58.6,965.7 72.1,971.8 85.2,981 97.9,955.9 111,847.5 115,776 118.5,774 121,823.5 124.5,841.5 128,848.5 131,849 135,845.5 138,842 151.4,956.5 164.9,976.6 178,962 191.2,956.3 204.7,954.4 217.9,953.5 231.4,952.3 244.8,953.5 258.1,955.8 270.9,1038.6 283.9,959.4 297.6,958.9 311,960.6 324,964.8 337.3,973.6 350,996 363.3,942.1 381,869 385.5,866.5 390.2,855.6 403.4,934.4 417,965 430,956.4 443,954 456,953 470,953.6 483,958.4 496,983.6 510,979 523,973.6 536,981.6 549,961 562.8,875 575.9,849.2 579.7,859.3 582.6,866.6 585.9,871.4 589.5,873.9 593,874.3 596.4,873.5 599.9,871.8 602.6,867.6 605.8,861.8 615.6,842.5 628.6,943.9 642.8,983.6 655.7,969 668.9,962.7 682.5,958.5 695.4,957.1 708.6,957.9 722.2,961.7 735.1,1008 748.4,972.1 762.6,968.4 775.5,975.7 788.5,990.9 801.2,1016 815.2,959.6 828.2,900 834,878.5 836.6,869.7 839.3,861.8 841.4,854.7 855.4,870.1 868.1,951.2 881.5,967.9 894.7,960 908.2,956.5 921.3,955.8 935,955.5 948.5,958.6 960.8,962.9 974,969.1 988,977.4 1001.1,975.3 1013.6,926.5 1027.5,844.1 1040.6,783.5 1043.7,808.3 1047.6,822.2 1050.2,830.7 1053.3,836.9 1057.2,841.5 1061,843.8 1064.9,844.6 1068,844.1 1071.1,842.3 1073.9,839.2 1077.3,835.3 1080.4,827.6 1083.5,817.5 1087.3,802.9 1090.4,782 1093.5,772.7 1097.4,802.1 1100.5,830.7 1103.4,854.8 1106.7,872.5 1110.4,890.4 1113.4,905.6 1117.5,919.0999999999999 1120.3,931.5 1123.2,942.5999999999999 1126.8,951.6999999999999 1130.3,959.5999999999999 1133,965.0 1137.1,969.0 1141.7,970.5 1146.3,969.9 1151.5,968.5 1155,966.5999999999999 1160.7,964.1999999999999 1173.4,959.3"/>
<path fill="#ff0000" d="M43.3 960.8h3l1 1v3.4l-1 1h-3l-1-1v-3.4zM57.1 963.0h3l1 1v3.4l-1 1h-3l-1-1v-3.4zM70.6 969.1h3l1 1v3.4l-1 1h-3l-1-1v-3.4zM83.7 978.3h3l1 1v3.4l-1 1h-3l-1-1v-3.4zM96.4 953.2h3l1 1v3.4l-1 1h-3l-1-1v-3.4zM109.5 844.8h3l1 1v3.4l-1 1h-3l-1-1v-3.4zM113.5 773.3h3l1 1v3.4l-1 1h-3l-1-1v-3.4zM117.0 771.3h3l1 1v3.4l-1 1h-3l-1-1v-3.4zM119.5 820.8h3l1 1v3.4l-1 1h-3l-1-1v-3.4zM123.0 838.8h3l1 1v3.4l-1 1h-3l-1-1v-3.4zM126.5 845.8h3l1 1v3.4l-1 1h-3l-1-1v-3.4zM129.5 846.3h3l1 1v3.4l-1 1h-3l-1-1v-3.4zM133.5 842.8h3l1 1v3.4l-1 1h-3l-1-1v-3.4zM136.5 839.3h3l1 1v3.4l-1 1h-3l-1-1v-3.4zM149.9 953.8h3l1 1v3.4l-1 1h-3l-1-1v-3.4zM163.4 973.9h3l1 1v3.4l-1 1h-3l-1-1v-3.4zM176.5 959.3h3l1 1v3.4l-1 1h-3l-1-1v-3.4zM189.7 953.6h3l1 1v3.4l-1 1h-3l-1-1v-3.4zM203.2 951.7h3l1 1v3.4l-1 1h-3l-1-1v-3.4zM216.4 950.8h3l1 1v3.4l-1 1h-3l-1-1v-3.4zM229.9 949.6h3l1 1v3.4l-1 1h-3l-1-1v-3.4zM243.3 950.8h3l1 1v3.4l-1 1h-3l-1-1v-3.4zM256.6 953.1h3l1 1v3.4l-1 1h-3l-1-1v-3.4zM269.4 1035.9h3l1 1v3.4l-1 1h-3l-1-1v-3.4zM282.4 956.7h3l1 1v3.4l-1 1h-3l-1-1v-3.4zM296.1 956.2h3l1 1v3.4l-1 1h-3l-1-1v-3.4zM309.5 957.9h3l1 1v3.4l-1 1h-3l-1-1v-3.4zM322.5 962.1h3l1 1v3.4l-1 1h-3l-1-1v-3.4zM335.8 970.9h3l1 1v3.4l-1 1h-3l-1-1v-3.4zM348.5 993.3h3l1 1v3.4l-1 1h-3l-1-1v-3.4zM361.8 939.4h3l1 1v3.4l-1 1h-3l-1-1v-3.4zM379.5 866.3h3l1 1v3.4l-1 1h-3l-1-1v-3.4zM384.0 863.8h3l1 1v3.4l-1 1h-3l-1-1v-3.4zM388.7 852.9h3l1 1v3.4l-1 1h-3l-1-1v-3.4zM401.9 931.7h3l1 1v3.4l-1 1h-3l-1-1v-3.4zM415.5 962.3h3l1 1v3.4l-1 1h-3l-1-1v-3.4zM428.5 953.7h3l1 1v3.4l-1 1h-3l-1-1v-3.4zM441.5 951.3h3l1 1v3.4l-1 1h-3l-1-1v-3.4zM454.5 950.3h3l1 1v3.4l-1 1h-3l-1-1v-3.4zM468.5 950.9h3l1 1v3.4l-1 1h-3l-1-1v-3.4zM481.5 955.7h3l1 1v3.4l-1 1h-3l-1-1v-3.4zM494.5 980.9h3l1 1v3.4l-1 1h-3l-1-1v-3.4zM508.5 976.3h3l1 1v3.4l-1 1h-3l-1-1v-3.4zM521.5 970.9h3l1 1v3.4l-1 1h-3l-1-1v-3.4zM534.5 978.9h3l1 1v3.4l-1 1h-3l-1-1v-3.4zM547.5 958.3h3l1 1v3.4l-1 1h-3l-1-1v-3.4zM561.3 872.3h3l1 1v3.4l-1 1h-3l-1-1v-3.4zM574.4 846.5h3l1 1v3.4l-1 1h-3l-1-1v-3.4zM578.2 856.6h3l1 1v3.4l-1 1h-3l-1-1v-3.4zM581.1 863.9h3l1 1v3.4l-1 1h-3l-1-1v-3.4zM584.4 868.7h3l1 1v3.4l-1 1h-3l-1-1v-3.4zM588.0 871.2h3l1 1v3.4l-1 1h-3l-1-1v-3.4zM591.5 871.6h3l1 1v3.4l-1 1h-3l-1-1v-3.4zM594.9 870.8h3l1 1v3.4l-1 1h-3l-1-1v-3.4zM598.4 869.1h3l1 1v3.4l-1 1h-3l-1-1v-3.4zM601.1 864.9h3l1 1v3.4l-1 1h-3l-1-1v-3.4zM604.3 859.1h3l1 1v3.4l-1 1h-3l-1-1v-3.4zM614.1 839.8h3l1 1v3.4l-1 1h-3l-1-1v-3.4zM627.1 941.2h3l1 1v3.4l-1 1h-3l-1-1v-3.4zM641.3 980.9h3l1 1v3.4l-1 1h-3l-1-1v-3.4zM654.2 966.3h3l1 1v3.4l-1 1h-3l-1-1v-3.4zM667.4 960.0h3l1 1v3.4l-1 1h-3l-1-1v-3.4zM681.0 955.8h3l1 1v3.4l-1 1h-3l-1-1v-3.4zM693.9 954.4h3l1 1v3.4l-1 1h-3l-1-1v-3.4zM707.1 955.2h3l1 1v3.4l-1 1h-3l-1-1v-3.4zM720.7 959.0h3l1 1v3.4l-1 1h-3l-1-1v-3.4zM733.6 1005.3h3l1 1v3.4l-1 1h-3l-1-1v-3.4zM746.9 969.4h3l1 1v3.4l-1 1h-3l-1-1v-3.4zM761.1 965.7h3l1 1v3.4l-1 1h-3l-1-1v-3.4zM774.0 973.0h3l1 1v3.4l-1 1h-3l-1-1v-3.4zM787.0 988.2h3l1 1v3.4l-1 1h-3l-1-1v-3.4zM799.7 1013.3h3l1 1v3.4l-1 1h-3l-1-1v-3.4zM813.7 956.9h3l1 1v3.4l-1 1h-3l-1-1v-3.4zM826.7 897.3h3l1 1v3.4l-1 1h-3l-1-1v-3.4zM832.5 875.8h3l1 1v3.4l-1 1h-3l-1-1v-3.4zM835.1 867.0h3l1 1v3.4l-1 1h-3l-1-1v-3.4zM837.8 859.1h3l1 1v3.4l-1 1h-3l-1-1v-3.4zM839.9 852.0h3l1 1v3.4l-1 1h-3l-1-1v-3.4zM853.9 867.4h3l1 1v3.4l-1 1h-3l-1-1v-3.4zM866.6 948.5h3l1 1v3.4l-1 1h-3l-1-1v-3.4zM880.0 965.2h3l1 1v3.4l-1 1h-3l-1-1v-3.4zM893.2 957.3h3l1 1v3.4l-1 1h-3l-1-1v-3.4zM906.7 953.8h3l1 1v3.4l-1 1h-3l-1-1v-3.4zM919.8 953.1h3l1 1v3.4l-1 1h-3l-1-1v-3.4zM933.5 952.8h3l1 1v3.4l-1 1h-3l-1-1v-3.4zM947.0 955.9h3l1 1v3.4l-1 1h-3l-1-1v-3.4zM959.3 960.2h3l1 1v3.4l-1 1h-3l-1-1v-3.4zM972.5 966.4h3l1 1v3.4l-1 1h-3l-1-1v-3.4zM986.5 974.7h3l1 1v3.4l-1 1h-3l-1-1v-3.4zM999.6 972.6h3l1 1v3.4l-1 1h-3l-1-1v-3.4zM1012.1 923.8h3l1 1v3.4l-1 1h-3l-1-1v-3.4zM1026.0 841.4h3l1 1v3.4l-1 1h-3l-1-1v-3.4zM1039.1 780.8h3l1 1v3.4l-1 1h-3l-1-1v-3.4zM1042.2 805.6h3l1 1v3.4l-1 1h-3l-1-1v-3.4zM1046.1 819.5h3l1 1v3.4l-1 1h-3l-1-1v-3.4zM1048.7 828.0h3l1 1v3.4l-1 1h-3l-1-1v-3.4zM1051.8 834.2h3l1 1v3.4l-1 1h-3l-1-1v-3.4zM1055.7 838.8h3l1 1v3.4l-1 1h-3l-1-1v-3.4zM1059.5 841.1h3l1 1v3.4l-1 1h-3l-1-1v-3.4zM1063.4 841.9h3l1 1v3.4l-1 1h-3l-1-1v-3.4zM1066.5 841.4h3l1 1v3.4l-1 1h-3l-1-1v-3.4zM1069.6 839.6h3l1 1v3.4l-1 1h-3l-1-1v-3.4zM1072.4 836.5h3l1 1v3.4l-1 1h-3l-1-1v-3.4zM1075.8 832.6h3l1 1v3.4l-1 1h-3l-1-1v-3.4zM1078.9 824.9h3l1 1v3.4l-1 1h-3l-1-1v-3.4zM1082.0 814.8h3l1 1v3.4l-1 1h-3l-1-1v-3.4zM1085.8 800.2h3l1 1v3.4l-1 1h-3l-1-1v-3.4zM1088.9 779.3h3l1 1v3.4l-1 1h-3l-1-1v-3.4zM1092.0 770.0h3l1 1v3.4l-1 1h-3l-1-1v-3.4zM1095.9 799.4h3l1 1v3.4l-1 1h-3l-1-1v-3.4zM1099.0 828.0h3l1 1v3.4l-1 1h-3l-1-1v-3.4zM1101.9 852.1h3l1 1v3.4l-1 1h-3l-1-1v-3.4zM1105.2 869.8h3l1 1v3.4l-1 1h-3l-1-1v-3.4zM1108.9 887.7h3l1 1v3.4l-1 1h-3l-1-1v-3.4zM1111.9 902.9h3l1 1v3.4l-1 1h-3l-1-1v-3.4zM1116.0 916.4h3l1 1v3.4l-1 1h-3l-1-1v-3.4zM1118.8 928.8h3l1 1v3.4l-1 1h-3l-1-1v-3.4zM1121.7 939.9h3l1 1v3.4l-1 1h-3l-1-1v-3.4zM1125.3 949.0h3l1 1v3.4l-1 1h-3l-1-1v-3.4zM1128.8 956.9h3l1 1v3.4l-1 1h-3l-1-1v-3.4zM1131.5 962.3h3l1 1v3.4l-1 1h-3l-1-1v-3.4zM1135.6 966.3h3l1 1v3.4l-1 1h-3l-1-1v-3.4zM1140.2 967.8h3l1 1v3.4l-1 1h-3l-1-1v-3.4zM1144.8 967.2h3l1 1v3.4l-1 1h-3l-1-1v-3.4zM1150.0 965.8h3l1 1v3.4l-1 1h-3l-1-1v-3.4zM1153.5 963.9h3l1 1v3.4l-1 1h-3l-1-1v-3.4zM1159.2 961.5h3l1 1v3.4l-1 1h-3l-1-1v-3.4zM1171.9 956.6h3l1 1v3.4l-1 1h-3l-1-1v-3.4z"/>
</g>
<g clip-path="url(#c3)">
<polyline fill="none" stroke="#008a00" stroke-width="1.6" stroke-linejoin="round" points="44.8,977.7 58.6,980.5 72.1,985.3 85.2,993.2 97.9,966.3 110.8,852 114.5,854.5 118.5,858.5 122.5,861.5 125.5,865.5 129.5,869 133,867 135.5,864.5 138.3,862.5 151.4,965.2 164.9,987.1 178,971.3 191.2,965.3 204.7,962.9 217.9,961 231.4,960.1 244.8,962.2 258.1,988.9 270.9,1103 283.9,983.7 297.6,973.6 311,971.2 324,974.3 337.3,981.8 350,1002.6 363.3,947.6 381,909 385.5,911 390.2,911.4 403.4,938 417,970.4 430,961 443,958 456,957 470,957 483,971.6 496,1019 510,1000 523,982.4 536,988 550,966 562.8,902.1 575.9,915.7 579,917.8 582.2,919.4 585.9,920.9 589.5,921.5 593,922 596.4,921.5 599.9,920.9 603.1,919.4 606.2,917.8 615.6,913.2 628.6,943.9 642.8,985.7 655.7,972.1 668.9,964.2 682.5,960.6 695.4,958.5 708.6,958.5 722.2,971.1 735.1,1042.7 748.4,986.7 762.6,975.2 775.5,978.8 788.5,994 801.2,1016 815.2,960.6 828.2,903.1 833,907.7 837.2,909.4 841.4,909 855.4,898.5 868.1,951.2 881.5,967.9 894.7,960 908.2,956.5 921.3,955.8 935,955.5 948.5,958.6 960.8,962.9 974,969.1 988,977.4 1001.1,975.3 1013.6,926.5 1027.8,912 1041.0,908.3 1044.5,905.8 1047.9,904.6 1051.4,903.5 1054.9,902.3 1058.3,901.1 1061.8,899.8 1065.3,898.4 1068.7,896.8 1072.2,895.0 1075.7,893.3 1079.1,891.7 1082.6,890.0 1086.1,887.5 1089.5,884.6 1093.0,881.6 1096.5,878.3 1099.9,874.3 1103.4,867.8 1107.5,874.3 1110.4,891.4 1113.4,906.2 1117.5,919.8 1120.3,932.2 1123.2,943.3 1126.8,952.4 1130.3,960.3 1133,965.7 1137.1,969.7 1141.7,971.2 1146.3,970.6 1151.5,969.2 1155,967.3 1160.7,964.9 1173.4,960"/>
<path fill="#008a00" d="M43.3 975.0h3l1 1v3.4l-1 1h-3l-1-1v-3.4zM57.1 977.8h3l1 1v3.4l-1 1h-3l-1-1v-3.4zM70.6 982.6h3l1 1v3.4l-1 1h-3l-1-1v-3.4zM83.7 990.5h3l1 1v3.4l-1 1h-3l-1-1v-3.4zM96.4 963.6h3l1 1v3.4l-1 1h-3l-1-1v-3.4zM109.3 849.3h3l1 1v3.4l-1 1h-3l-1-1v-3.4zM113.0 851.8h3l1 1v3.4l-1 1h-3l-1-1v-3.4zM117.0 855.8h3l1 1v3.4l-1 1h-3l-1-1v-3.4zM121.0 858.8h3l1 1v3.4l-1 1h-3l-1-1v-3.4zM124.0 862.8h3l1 1v3.4l-1 1h-3l-1-1v-3.4zM128.0 866.3h3l1 1v3.4l-1 1h-3l-1-1v-3.4zM131.5 864.3h3l1 1v3.4l-1 1h-3l-1-1v-3.4zM134.0 861.8h3l1 1v3.4l-1 1h-3l-1-1v-3.4zM136.8 859.8h3l1 1v3.4l-1 1h-3l-1-1v-3.4zM149.9 962.5h3l1 1v3.4l-1 1h-3l-1-1v-3.4zM163.4 984.4h3l1 1v3.4l-1 1h-3l-1-1v-3.4zM176.5 968.6h3l1 1v3.4l-1 1h-3l-1-1v-3.4zM189.7 962.6h3l1 1v3.4l-1 1h-3l-1-1v-3.4zM203.2 960.2h3l1 1v3.4l-1 1h-3l-1-1v-3.4zM216.4 958.3h3l1 1v3.4l-1 1h-3l-1-1v-3.4zM229.9 957.4h3l1 1v3.4l-1 1h-3l-1-1v-3.4zM243.3 959.5h3l1 1v3.4l-1 1h-3l-1-1v-3.4zM256.6 986.2h3l1 1v3.4l-1 1h-3l-1-1v-3.4zM282.4 981.0h3l1 1v3.4l-1 1h-3l-1-1v-3.4zM296.1 970.9h3l1 1v3.4l-1 1h-3l-1-1v-3.4zM309.5 968.5h3l1 1v3.4l-1 1h-3l-1-1v-3.4zM322.5 971.6h3l1 1v3.4l-1 1h-3l-1-1v-3.4zM335.8 979.1h3l1 1v3.4l-1 1h-3l-1-1v-3.4zM348.5 999.9h3l1 1v3.4l-1 1h-3l-1-1v-3.4zM361.8 944.9h3l1 1v3.4l-1 1h-3l-1-1v-3.4zM379.5 906.3h3l1 1v3.4l-1 1h-3l-1-1v-3.4zM384.0 908.3h3l1 1v3.4l-1 1h-3l-1-1v-3.4zM388.7 908.7h3l1 1v3.4l-1 1h-3l-1-1v-3.4zM401.9 935.3h3l1 1v3.4l-1 1h-3l-1-1v-3.4zM415.5 967.7h3l1 1v3.4l-1 1h-3l-1-1v-3.4zM428.5 958.3h3l1 1v3.4l-1 1h-3l-1-1v-3.4zM441.5 955.3h3l1 1v3.4l-1 1h-3l-1-1v-3.4zM454.5 954.3h3l1 1v3.4l-1 1h-3l-1-1v-3.4zM468.5 954.3h3l1 1v3.4l-1 1h-3l-1-1v-3.4zM481.5 968.9h3l1 1v3.4l-1 1h-3l-1-1v-3.4zM494.5 1016.3h3l1 1v3.4l-1 1h-3l-1-1v-3.4zM508.5 997.3h3l1 1v3.4l-1 1h-3l-1-1v-3.4zM521.5 979.7h3l1 1v3.4l-1 1h-3l-1-1v-3.4zM534.5 985.3h3l1 1v3.4l-1 1h-3l-1-1v-3.4zM548.5 963.3h3l1 1v3.4l-1 1h-3l-1-1v-3.4zM561.3 899.4h3l1 1v3.4l-1 1h-3l-1-1v-3.4zM574.4 913.0h3l1 1v3.4l-1 1h-3l-1-1v-3.4zM577.5 915.1h3l1 1v3.4l-1 1h-3l-1-1v-3.4zM580.7 916.7h3l1 1v3.4l-1 1h-3l-1-1v-3.4zM584.4 918.2h3l1 1v3.4l-1 1h-3l-1-1v-3.4zM588.0 918.8h3l1 1v3.4l-1 1h-3l-1-1v-3.4zM591.5 919.3h3l1 1v3.4l-1 1h-3l-1-1v-3.4zM594.9 918.8h3l1 1v3.4l-1 1h-3l-1-1v-3.4zM598.4 918.2h3l1 1v3.4l-1 1h-3l-1-1v-3.4zM601.6 916.7h3l1 1v3.4l-1 1h-3l-1-1v-3.4zM604.7 915.1h3l1 1v3.4l-1 1h-3l-1-1v-3.4zM614.1 910.5h3l1 1v3.4l-1 1h-3l-1-1v-3.4zM627.1 941.2h3l1 1v3.4l-1 1h-3l-1-1v-3.4zM641.3 983.0h3l1 1v3.4l-1 1h-3l-1-1v-3.4zM654.2 969.4h3l1 1v3.4l-1 1h-3l-1-1v-3.4zM667.4 961.5h3l1 1v3.4l-1 1h-3l-1-1v-3.4zM681.0 957.9h3l1 1v3.4l-1 1h-3l-1-1v-3.4zM693.9 955.8h3l1 1v3.4l-1 1h-3l-1-1v-3.4zM707.1 955.8h3l1 1v3.4l-1 1h-3l-1-1v-3.4zM720.7 968.4h3l1 1v3.4l-1 1h-3l-1-1v-3.4zM733.6 1040.0h3l1 1v3.4l-1 1h-3l-1-1v-3.4zM746.9 984.0h3l1 1v3.4l-1 1h-3l-1-1v-3.4zM761.1 972.5h3l1 1v3.4l-1 1h-3l-1-1v-3.4zM774.0 976.1h3l1 1v3.4l-1 1h-3l-1-1v-3.4zM787.0 991.3h3l1 1v3.4l-1 1h-3l-1-1v-3.4zM799.7 1013.3h3l1 1v3.4l-1 1h-3l-1-1v-3.4zM813.7 957.9h3l1 1v3.4l-1 1h-3l-1-1v-3.4zM826.7 900.4h3l1 1v3.4l-1 1h-3l-1-1v-3.4zM831.5 905.0h3l1 1v3.4l-1 1h-3l-1-1v-3.4zM835.7 906.7h3l1 1v3.4l-1 1h-3l-1-1v-3.4zM839.9 906.3h3l1 1v3.4l-1 1h-3l-1-1v-3.4zM853.9 895.8h3l1 1v3.4l-1 1h-3l-1-1v-3.4zM866.6 948.5h3l1 1v3.4l-1 1h-3l-1-1v-3.4zM880.0 965.2h3l1 1v3.4l-1 1h-3l-1-1v-3.4zM893.2 957.3h3l1 1v3.4l-1 1h-3l-1-1v-3.4zM906.7 953.8h3l1 1v3.4l-1 1h-3l-1-1v-3.4zM919.8 953.1h3l1 1v3.4l-1 1h-3l-1-1v-3.4zM933.5 952.8h3l1 1v3.4l-1 1h-3l-1-1v-3.4zM947.0 955.9h3l1 1v3.4l-1 1h-3l-1-1v-3.4zM959.3 960.2h3l1 1v3.4l-1 1h-3l-1-1v-3.4zM972.5 966.4h3l1 1v3.4l-1 1h-3l-1-1v-3.4zM986.5 974.7h3l1 1v3.4l-1 1h-3l-1-1v-3.4zM999.6 972.6h3l1 1v3.4l-1 1h-3l-1-1v-3.4zM1012.1 923.8h3l1 1v3.4l-1 1h-3l-1-1v-3.4zM1026.3 909.3h3l1 1v3.4l-1 1h-3l-1-1v-3.4zM1039.5 905.6h3l1 1v3.4l-1 1h-3l-1-1v-3.4zM1043.0 903.1h3l1 1v3.4l-1 1h-3l-1-1v-3.4zM1046.4 901.9h3l1 1v3.4l-1 1h-3l-1-1v-3.4zM1049.9 900.8h3l1 1v3.4l-1 1h-3l-1-1v-3.4zM1053.4 899.6h3l1 1v3.4l-1 1h-3l-1-1v-3.4zM1056.8 898.4h3l1 1v3.4l-1 1h-3l-1-1v-3.4zM1060.3 897.1h3l1 1v3.4l-1 1h-3l-1-1v-3.4zM1063.8 895.7h3l1 1v3.4l-1 1h-3l-1-1v-3.4zM1067.2 894.1h3l1 1v3.4l-1 1h-3l-1-1v-3.4zM1070.7 892.3h3l1 1v3.4l-1 1h-3l-1-1v-3.4zM1074.2 890.6h3l1 1v3.4l-1 1h-3l-1-1v-3.4zM1077.6 889.0h3l1 1v3.4l-1 1h-3l-1-1v-3.4zM1081.1 887.3h3l1 1v3.4l-1 1h-3l-1-1v-3.4zM1084.6 884.8h3l1 1v3.4l-1 1h-3l-1-1v-3.4zM1088.0 881.9h3l1 1v3.4l-1 1h-3l-1-1v-3.4zM1091.5 878.9h3l1 1v3.4l-1 1h-3l-1-1v-3.4zM1095.0 875.6h3l1 1v3.4l-1 1h-3l-1-1v-3.4zM1098.4 871.6h3l1 1v3.4l-1 1h-3l-1-1v-3.4zM1101.9 865.1h3l1 1v3.4l-1 1h-3l-1-1v-3.4zM1106.0 871.6h3l1 1v3.4l-1 1h-3l-1-1v-3.4zM1108.9 888.7h3l1 1v3.4l-1 1h-3l-1-1v-3.4zM1111.9 903.5h3l1 1v3.4l-1 1h-3l-1-1v-3.4zM1116.0 917.1h3l1 1v3.4l-1 1h-3l-1-1v-3.4zM1118.8 929.5h3l1 1v3.4l-1 1h-3l-1-1v-3.4zM1121.7 940.6h3l1 1v3.4l-1 1h-3l-1-1v-3.4zM1125.3 949.7h3l1 1v3.4l-1 1h-3l-1-1v-3.4zM1128.8 957.6h3l1 1v3.4l-1 1h-3l-1-1v-3.4zM1131.5 963.0h3l1 1v3.4l-1 1h-3l-1-1v-3.4zM1135.6 967.0h3l1 1v3.4l-1 1h-3l-1-1v-3.4zM1140.2 968.5h3l1 1v3.4l-1 1h-3l-1-1v-3.4zM1144.8 967.9h3l1 1v3.4l-1 1h-3l-1-1v-3.4zM1150.0 966.5h3l1 1v3.4l-1 1h-3l-1-1v-3.4zM1153.5 964.6h3l1 1v3.4l-1 1h-3l-1-1v-3.4zM1159.2 962.2h3l1 1v3.4l-1 1h-3l-1-1v-3.4zM1171.9 957.3h3l1 1v3.4l-1 1h-3l-1-1v-3.4z"/>
</g>
</g></svg>
</body></html>
